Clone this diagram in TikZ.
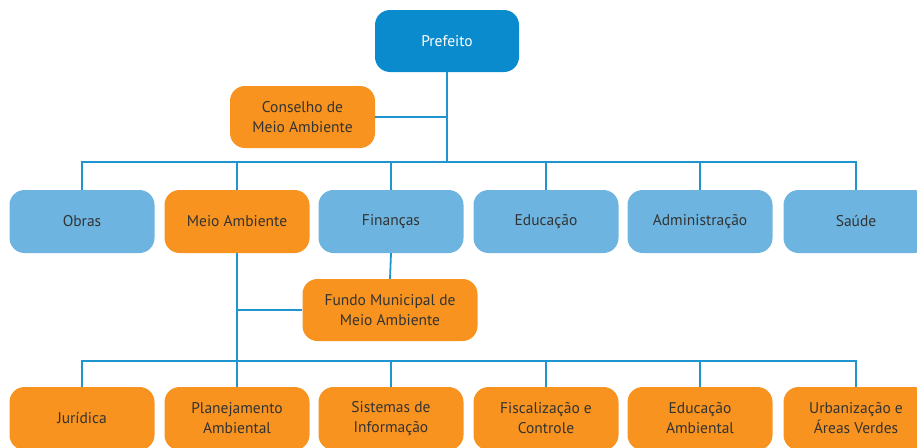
\documentclass[tikz,border=0pt]{standalone}
\usepackage{fontspec}
\setmainfont{PT Sans}
\definecolor{dblue}{HTML}{0A8BCD}
\definecolor{lblue}{HTML}{6DB5E0}
\definecolor{orng}{HTML}{F7931E}
\definecolor{lnc}{HTML}{1F95D0}
\definecolor{txt}{HTML}{333333}
\begin{document}
\begin{tikzpicture}[x=1pt,y=-1pt,
  box/.style={rectangle,rounded corners=15pt,minimum width=145pt,minimum height=63pt,inner sep=0pt,align=center,font=\fontsize{15.5}{20}\selectfont,text=txt},
  bluebox/.style={box,fill=lblue},
  orbox/.style={box,fill=orng},
  conn/.style={draw=lnc,line width=1.8pt}]
\useasboundingbox (0,0) rectangle (917,447);
% nodes
\node[box,fill=dblue,text=white,minimum width=144pt,minimum height=62pt] (pref) at (447,41) {Prefeito};
\node[orbox,minimum height=62pt] (cons) at (302.5,117) {Conselho de\\Meio Ambiente};
\node[bluebox] (obras) at (82,221.5) {Obras};
\node[orbox] (meio) at (237,221.5) {Meio Ambiente};
\node[bluebox] (fin) at (391,221.5) {Finanças};
\node[bluebox] (edu) at (546,221.5) {Educação};
\node[bluebox] (adm) at (700,221.5) {Administração};
\node[bluebox] (sau) at (856,221.5) {Saúde};
\node[orbox,minimum width=175pt,minimum height=62pt] (fundo) at (390,310) {Fundo Municipal de\\Meio Ambiente};
\node[orbox] (jur) at (82,418.5) {Jurídica};
\node[orbox] (plan) at (237,418.5) {Planejamento\\Ambiental};
\node[orbox] (sis) at (391,418.5) {Sistemas de\\Informação};
\node[orbox] (fis) at (546,418.5) {Fiscalização e\\Controle};
\node[orbox] (edam) at (700,418.5) {Educação\\Ambiental};
\node[orbox] (urb) at (856,418.5) {Urbanização e\\Áreas Verdes};
% bus coordinates
\coordinate (b1) at (447,162);
\coordinate (b2) at (237,361);
% connectors
\draw[conn] (pref.south) -- (b1);
\draw[conn] (cons.east) -- (cons.east -| pref.south);
\draw[conn] (obras.north) |- (b1) -| (sau.north);
\draw[conn] (meio.north) -- (meio.north |- b1);
\draw[conn] (fin.north) -- (fin.north |- b1);
\draw[conn] (edu.north) -- (edu.north |- b1);
\draw[conn] (adm.north) -- (adm.north |- b1);
\draw[conn] (meio.south) -- (b2);
\draw[conn] (fundo.west) -- (fundo.west -| meio.south);
\draw[conn] (fin.south) -- (fundo.north);
\draw[conn] (jur.north) |- (b2) -| (urb.north);
\draw[conn] (plan.north) -- (b2);
\draw[conn] (sis.north) -- (sis.north |- b2);
\draw[conn] (fis.north) -- (fis.north |- b2);
\draw[conn] (edam.north) -- (edam.north |- b2);
\end{tikzpicture}
\end{document}
